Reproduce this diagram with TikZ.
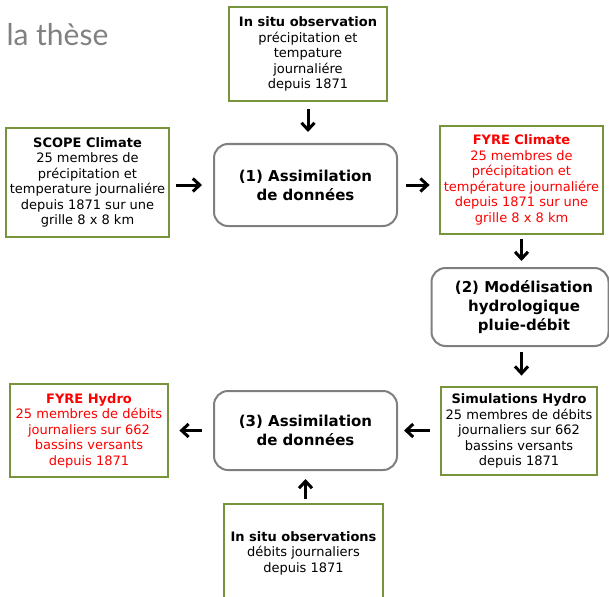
\documentclass[tikz,border=0pt]{standalone}
\usepackage{fontspec}
\setmainfont{DejaVu Sans}
\newfontfamily\titlefont{Lato}
\usetikzlibrary{arrows.meta,calc}
\definecolor{boxgreen}{HTML}{77933C}
\definecolor{boxgrey}{HTML}{7F7F7F}
\definecolor{fyrered}{HTML}{FF0000}
\definecolor{titlegrey}{HTML}{808080}
\begin{document}
\begin{tikzpicture}[x=1pt,y=-1pt,
  databox/.style={draw=boxgreen,line width=2.8pt,fill=white,inner sep=0pt,align=center,
    font=\fontsize{13}{15.5}\selectfont},
  procbox/.style={draw=boxgrey,line width=2pt,rounded corners=14pt,fill=white,inner sep=0pt,align=center,
    font=\fontsize{15}{19}\selectfont\bfseries},
  flow/.style={line width=3pt,-{Straight Barb[length=7pt,width=13pt,line width=3pt]}}
]
\useasboundingbox (0,0) rectangle (609,596);
\node[anchor=west,text=titlegrey,font=\titlefont\fontsize{30}{34}\selectfont] (title) at (3,35) {la thèse};

% data boxes (corners from pixel measures)
\node[databox,minimum width=158pt,minimum height=94pt] (obsA) at (308,54)
  {\textbf{In situ observation}\\précipitation et\\tempature\\journaliére\\depuis 1871};
\node[databox,minimum width=163pt,minimum height=109pt] (scope) at (87.5,182.5)
  {\textbf{SCOPE Climate}\\25 membres de\\précipitation et\\temperature journaliére\\depuis 1871 sur une\\grille 8 x 8 km};
\node[databox,minimum width=163pt,minimum height=108pt,text=fyrered] (fyreC) at (521.5,180)
  {\textbf{FYRE Climate}\\25 membres de\\précipitation et\\température journaliére\\depuis 1871 sur une\\grille 8 x 8 km};
\node[databox,minimum width=156pt,minimum height=88pt] (simH) at (519,431)
  {\textbf{Simulations Hydro}\\25 membres de débits\\journaliers sur 662\\bassins versants\\depuis 1871};
\node[databox,minimum width=158pt,minimum height=93pt,text=fyrered] (fyreH) at (89,430.5)
  {\textbf{FYRE Hydro}\\25 membres de débits\\journaliers sur 662\\bassins versants\\depuis 1871};
\node[databox,minimum width=159pt,minimum height=98pt] (obsB) at (303.5,553)
  {\textbf{In situ observations}\\débits journaliers\\depuis 1871};

% process boxes
\node[procbox,minimum width=183pt,minimum height=82pt] (assimA) at (305.5,185)
  {(1) Assimilation\\de données};
\node[procbox,minimum width=177pt,minimum height=78pt] (model) at (520,307)
  {\hspace*{8pt}(2) Modélisation\\\hspace*{8pt}hydrologique\\\hspace*{8pt}pluie-débit};
\node[procbox,minimum width=183pt,minimum height=79pt] (assimB) at (305.5,430.5)
  {(3) Assimilation\\de données};

% connectors
\draw[flow,shorten <=7pt,shorten >=11pt] (obsA.south) -- (obsA.south |- assimA.north);
\draw[flow,shorten <=6pt,shorten >=11pt] (scope.east |- assimA.west) -- (assimA.west);
\draw[flow,shorten <=8pt,shorten >=9pt] (assimA.east) -- (assimA.east -| fyreC.west);
\draw[flow,shorten <=4pt,shorten >=6pt] (fyreC.south) -- (fyreC.south |- model.north);
\draw[flow,shorten <=5pt,shorten >=10pt] (model.south -| fyreC.south) -- (fyreC.south |- simH.north);
\draw[flow,shorten <=10pt,shorten >=6pt] (simH.west |- assimB.east) -- (assimB.east);
\draw[flow,shorten <=11pt,shorten >=10pt] (assimB.west) -- (assimB.west -| fyreH.east);
\draw[flow,shorten <=4pt,shorten >=8pt] (obsB.north -| assimB.south) -- (assimB.south);
\end{tikzpicture}
\end{document}
